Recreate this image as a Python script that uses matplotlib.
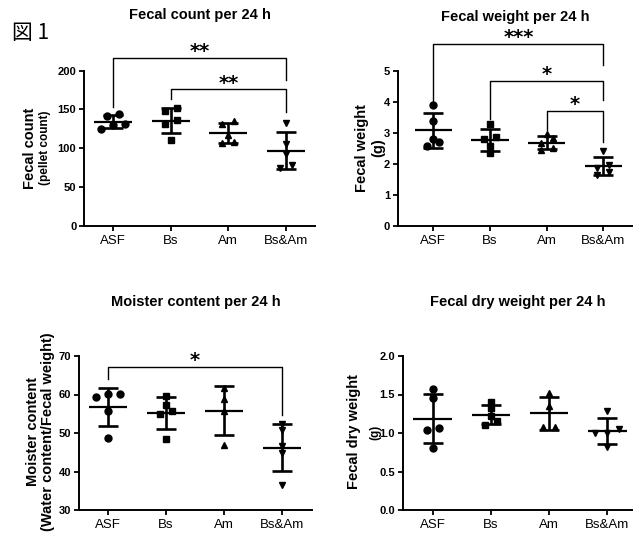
import numpy as np
import matplotlib.pyplot as plt

plt.rcParams['font.family'] = ['Liberation Sans', 'DejaVu Sans']

# ----------------------------------------------------------------
# Data
# ----------------------------------------------------------------
groups = ['ASF', 'Bs', 'Am', 'Bs&Am']

count_asf = [143.7, 141.5, 130.8, 125.0, 130.0]
count_bs = [151.5, 148.0, 137.0, 131.0, 110.6]
count_am = [135.5, 131.6, 117.0, 106.3, 108.4]
count_bsam = [133.0, 106.0, 93.0, 75.0, 78.0]

weight_asf = [3.91, 3.40, 2.80, 2.59, 2.72]
weight_bs = [3.28, 2.88, 2.80, 2.59, 2.34]
weight_am = [2.97, 2.83, 2.67, 2.45, 2.50]
weight_bsam = [2.40, 1.95, 1.87, 1.72, 1.65]

moist_asf = [60.1, 60.1, 59.3, 55.8, 48.6]
moist_bs = [59.6, 57.4, 55.7, 54.9, 48.4]
moist_am = [61.6, 58.8, 55.8, 46.9]
moist_bsam = [52.3, 50.8, 46.6, 44.9, 36.5]

dry_asf = [1.57, 1.45, 1.06, 1.04, 0.80]
dry_bs = [1.40, 1.32, 1.22, 1.15, 1.11]
dry_am = [1.52, 1.35, 1.08, 1.08]
dry_bsam = [1.29, 1.05, 1.00, 1.00, 0.82]

# significance comparisons: (group a, group b, label)
count_sig = [(0, 3, '**'), (1, 3, '**')]
weight_sig = [(0, 3, '***'), (1, 3, '*'), (2, 3, '*')]
moist_sig = [(0, 3, '*')]

MARKERS = ['o', 's', '^', 'v']
W, H = 633, 533


# ----------------------------------------------------------------
# Helpers
# ----------------------------------------------------------------
def add_axes_px(fig, left, top, right, bottom):
    return fig.add_axes([left / W, 1 - bottom / H, (right - left) / W, (bottom - top) / H])


def swarm_offsets(values, px_per_y, gap_px=5.5, step_px=12):
    # Prism-like spreading: points closer than gap_px vertically share a row
    values = np.asarray(values, dtype=float)
    rows = []
    for idx in np.argsort(values):
        if rows and (values[idx] - values[rows[-1][0]]) * px_per_y < gap_px:
            rows[-1].append(idx)
        else:
            rows.append([idx])
    offsets = np.zeros(len(values))
    for row in rows:
        for k, idx in enumerate(row):
            offsets[idx] = (k - (len(row) - 1) / 2) * step_px
    return offsets


def scatter_panel(ax, data, ylim, yticks, ytick_fmt, xlim, box):
    left, top, right, bottom = box
    px_per_y = (bottom - top) / (ylim[1] - ylim[0])
    px_per_x = (right - left) / (xlim[1] - xlim[0])
    for i, vals in enumerate(data):
        vals = np.asarray(vals)
        xs = i + swarm_offsets(vals, px_per_y) / px_per_x
        ax.plot(xs, vals, ls='none', marker=MARKERS[i], ms=5, color='black', zorder=3, clip_on=False)
        m, sd = vals.mean(), vals.std(ddof=1)
        ax.hlines(m, i - 0.33, i + 0.33, color='black', lw=1.6, zorder=2)
        ax.errorbar(i, m, yerr=sd, fmt='none', ecolor='black', elinewidth=1.9,
                    capsize=7, capthick=1.9, zorder=2)
    ax.set_xlim(*xlim)
    ax.set_ylim(*ylim)
    ax.set_xticks(range(len(groups)))
    ax.set_xticklabels(groups, fontsize=9.5)
    ax.set_yticks(yticks)
    ax.set_yticklabels([ytick_fmt.format(t) for t in yticks], fontsize=8, fontweight='bold')
    for s in ['top', 'right']:
        ax.spines[s].set_visible(False)
    for s in ['left', 'bottom']:
        ax.spines[s].set_linewidth(1.4)
    ax.tick_params(width=1.3, length=3.5, pad=2)
    ax.tick_params(axis='x', pad=3)


def bracket(ax, a, b, top, foot_a, foot_b, label):
    ax.plot([a, a, b, b], [foot_a, top, top, foot_b], color='black', lw=1.0, clip_on=False)
    ax.annotate(label, xy=((a + b) / 2, top), xytext=(0, 0.5), textcoords='offset points',
                ha='center', va='baseline', fontsize=14, fontweight='bold',
                family='DejaVu Sans', annotation_clip=False)


def ylabel_px(fig, x, y, text, size):
    fig.text(x / W, 1 - y / H, text, rotation=90, ha='center', va='center',
             fontsize=size, fontweight='bold')


def title_px(fig, x, y, text):
    fig.text(x / W, 1 - y / H, text, ha='center', va='center', fontsize=10.5, fontweight='bold')


# ----------------------------------------------------------------
# Figure
# ----------------------------------------------------------------
fig = plt.figure(figsize=(W / 100, H / 100), dpi=100)

# Fecal count
box1 = (84, 70.7, 315, 225.7)
ax1 = add_axes_px(fig, *box1)
scatter_panel(ax1, [count_asf, count_bs, count_am, count_bsam], (0, 200), [0, 50, 100, 150, 200],
              '{:.0f}', (-0.5, 3.5), box1)
feet1 = [(153.5, 188), (163.5, 147)]
tops1 = [216.8, 176]
for (a, b, lab), top, (fa, fb) in zip(count_sig, tops1, feet1):
    bracket(ax1, a, b, top, fa, fb, lab)
title_px(fig, 199.5, 15, 'Fecal count per 24 h')
ylabel_px(fig, 30, 148, 'Fecal count', 10.5)
ylabel_px(fig, 45, 148, '(pellet count)', 8.5)

# Fecal weight
box2 = (397.7, 71, 631.7, 225.7)
ax2 = add_axes_px(fig, *box2)
scatter_panel(ax2, [weight_asf, weight_bs, weight_am, weight_bsam], (0, 5), [0, 1, 2, 3, 4, 5],
              '{:.0f}', (-0.63, 3.5), box2)
feet2 = [(3.96, 5.2), (3.44, 4.07), (3.10, 2.69)]
tops2 = [5.87, 4.68, 3.71]
for (a, b, lab), top, (fa, fb) in zip(weight_sig, tops2, feet2):
    bracket(ax2, a, b, top, fa, fb, lab)
title_px(fig, 515, 16.7, 'Fecal weight per 24 h')
ylabel_px(fig, 361.7, 148, 'Fecal weight', 10.5)
ylabel_px(fig, 378, 148, '(g)', 10.5)

# Moisture content
box3 = (79, 356, 311.7, 510)
ax3 = add_axes_px(fig, *box3)
scatter_panel(ax3, [moist_asf, moist_bs, moist_am, moist_bsam], (30, 70), [30, 40, 50, 60, 70],
              '{:.0f}', (-0.507, 3.52), box3)
for (a, b, lab) in moist_sig:
    bracket(ax3, a, b, 67.2, 64.0, 54.7, lab)
title_px(fig, 195.5, 301.7, 'Moister content per 24 h')
ylabel_px(fig, 33, 432, 'Moister content', 10.5)
ylabel_px(fig, 48, 432, '(Water content/Fecal weight)', 10.5)

# Fecal dry weight
box4 = (402.7, 356, 633, 510)
ax4 = add_axes_px(fig, *box4)
scatter_panel(ax4, [dry_asf, dry_bs, dry_am, dry_bsam], (0, 2), [0, 0.5, 1.0, 1.5, 2.0],
              '{:.1f}', (-0.515, 3.44), box4)
title_px(fig, 518, 301.7, 'Fecal dry weight per 24 h')
ylabel_px(fig, 354, 432, 'Fecal dry weight', 10.5)
ylabel_px(fig, 375, 432, '(g)', 8.5)

fig.text(12 / W, 1 - 33 / H, '図 1', ha='left', va='center', fontsize=15,
         family=['Noto Sans CJK JP', 'DejaVu Sans'])

fig.savefig('out.png', dpi=100)
